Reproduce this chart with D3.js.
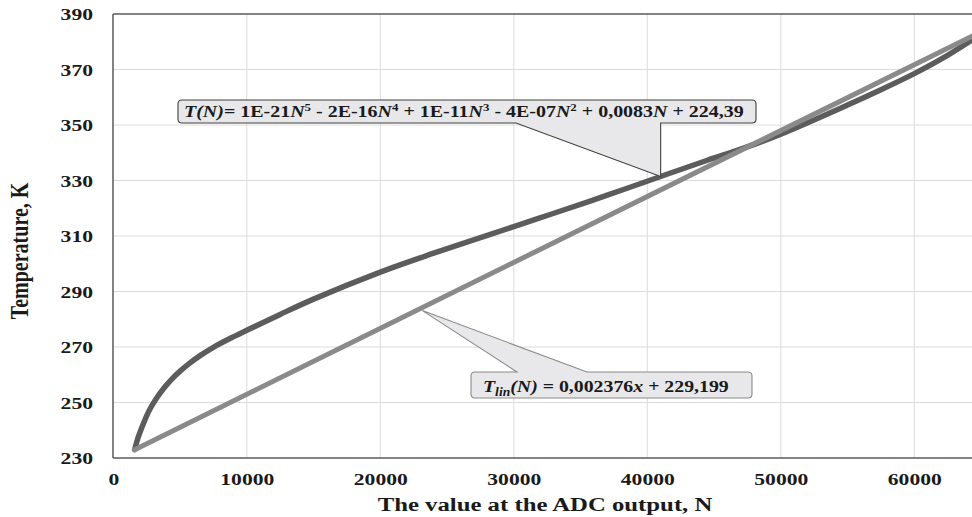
<!DOCTYPE html>
<html>
<head>
<meta charset="utf-8">
<script src="https://cdn.jsdelivr.net/npm/d3@7/dist/d3.min.js"></script>
<style>
  html, body { margin: 0; padding: 0; background: #fff; }
  svg { display: block; }
  text { font-family: "Liberation Serif", "Times New Roman", serif; font-weight: bold; fill: #1a1a1a; }
</style>
</head>
<body>
<svg id="chart" width="972" height="517"></svg>
<script>
// ---- data ----
const xTicks = [0, 10000, 20000, 30000, 40000, 50000, 60000];
const yTicks = [230, 250, 270, 290, 310, 330, 350, 370, 390];

const polyN = [1600, 1800, 2100, 2500, 2800, 3250, 3800, 4400, 5000, 5750, 6500, 7500, 8700, 10000, 12500, 15000, 20000, 24000, 30000, 33000, 37000, 41000, 44500, 47000, 50000, 55000, 57500, 60000, 62000, 64400];
const polyT = [233.0, 236.5, 240.5, 245.2, 248.1, 251.6, 255.2, 258.5, 261.3, 264.3, 266.9, 269.9, 272.95, 276.0, 281.75, 287.25, 297.0, 303.8, 313.4, 318.2, 324.7, 331.45, 337.3, 341.3, 346.7, 357.2, 362.7, 368.5, 373.7, 380.9];

const linN = [1600, 64400];
const linT = [233.0, 382.2];

const xTitle = "The value at the ADC output, N";
const yTitle = "Temperature, K";

// ---- layout ----
const mLeft = 113, mTop = 14, mBottom = 458;
const x = d3.scaleLinear().domain([0, 65000]).range([113.3, 113.3 + 65 * 13.35]);
const y = d3.scaleLinear().domain([230, 390]).range([mBottom, mTop]);
const plotRight = x(65000);
const SX = 1.27; // horizontal stretch of the original figure

const svg = d3.select("#chart");

// gridlines
svg.append("g").selectAll("line").data(yTicks.filter(d => d !== 230 && d !== 390)).join("line")
  .attr("x1", mLeft).attr("x2", plotRight)
  .attr("y1", d => y(d)).attr("y2", d => y(d))
  .attr("stroke", "#dcdcdc").attr("stroke-width", 1);
svg.append("g").selectAll("line").data(xTicks.filter(d => d !== 0)).join("line")
  .attr("x1", d => x(d)).attr("x2", d => x(d))
  .attr("y1", mTop).attr("y2", mBottom)
  .attr("stroke", "#dcdcdc").attr("stroke-width", 1);

// frame lines
const frame = svg.append("g").attr("stroke", "#5a5a5a").attr("stroke-width", 1.5);
frame.append("line").attr("x1", mLeft).attr("x2", plotRight).attr("y1", mTop).attr("y2", mTop);
frame.append("line").attr("x1", mLeft).attr("x2", plotRight).attr("y1", mBottom).attr("y2", mBottom);
frame.append("line").attr("x1", mLeft).attr("x2", mLeft).attr("y1", mTop).attr("y2", mBottom);

// axes (ticks via d3 axes)
const yAxis = svg.append("g").attr("transform", `translate(${mLeft},0)`)
  .call(d3.axisLeft(y).tickValues(yTicks).tickSize(0).tickFormat(d3.format("d")));
yAxis.select(".domain").remove();
yAxis.selectAll("text")
  .attr("x", null).attr("dy", null)
  .attr("dominant-baseline", "central")
  .attr("text-anchor", "end")
  .attr("font-family", "Liberation Serif").attr("font-size", 17).attr("font-weight", "bold")
  .attr("fill", "#1a1a1a")
  .attr("transform", `translate(-20,0) scale(${SX},1)`);

const xAxis = svg.append("g").attr("transform", `translate(0,${mBottom})`)
  .call(d3.axisBottom(x).tickValues(xTicks).tickSize(0).tickFormat(d3.format("d")));
xAxis.select(".domain").remove();
xAxis.selectAll("text")
  .attr("y", null).attr("dy", null)
  .attr("text-anchor", "middle")
  .attr("font-family", "Liberation Serif").attr("font-size", 17).attr("font-weight", "bold")
  .attr("fill", "#1a1a1a")
  .attr("transform", `translate(0,27) scale(${SX},1)`);

// axis titles
svg.append("g").attr("transform", `translate(545,511) scale(${SX},1)`)
  .append("text").attr("text-anchor", "middle").attr("font-size", 19.5).text(xTitle);
svg.append("g").attr("transform", `translate(28,251) scale(${SX},1) rotate(-90)`)
  .append("text").attr("text-anchor", "middle").attr("font-size", 20).text(yTitle);

// curves
const line = d3.line().x(d => x(d[0])).y(d => y(d[1])).curve(d3.curveCatmullRom.alpha(0.5));
svg.append("path").datum(polyN.map((n, i) => [n, polyT[i]]))
  .attr("d", line).attr("fill", "none").attr("stroke", "#5c5c5c")
  .attr("stroke-width", 5.5).attr("stroke-linecap", "round").attr("stroke-linejoin", "round");
svg.append("path").datum(linN.map((n, i) => [n, linT[i]]))
  .attr("d", d3.line().x(d => x(d[0])).y(d => y(d[1]))).attr("fill", "none").attr("stroke", "#8a8a8a")
  .attr("stroke-width", 5).attr("stroke-linecap", "round");

// callouts
function calloutPath(x0, y0, x1, y1, r, side, bx0, bx1, tx, ty) {
  let p = `M${x0 + r},${y0}`;
  if (side === "top") p += `H${bx0}L${tx},${ty}L${bx1},${y0}`;
  p += `H${x1 - r}Q${x1},${y0} ${x1},${y0 + r}V${y1 - r}Q${x1},${y1} ${x1 - r},${y1}`;
  if (side === "bottom") p += `H${bx1}L${tx},${ty}L${bx0},${y1}`;
  p += `H${x0 + r}Q${x0},${y1} ${x0},${y1 - r}V${y0 + r}Q${x0},${y0} ${x0 + r},${y0}Z`;
  return p;
}
function interp(ns, ts, n) {
  for (let i = 0; i < ns.length - 1; i++) {
    if (n >= ns[i] && n <= ns[i + 1]) return ts[i] + (ts[i + 1] - ts[i]) * (n - ns[i]) / (ns[i + 1] - ns[i]);
  }
  return ts[ts.length - 1];
}

// polynomial callout
const t1x = x(41000), t1y = y(interp(polyN, polyT, 41000));
svg.append("path")
  .attr("d", calloutPath(178, 100, 756, 123, 4, "bottom", 516, t1x, t1x, t1y))
  .attr("fill", "#e8e8ea").attr("stroke", "#404040").attr("stroke-width", 1.1);
const c1 = svg.append("g").attr("transform", "translate(184,117)");
const txt1 = c1.append("text").attr("font-size", 17);
const parts1 = [
  ["T(N)", true, 0], ["= 1E-21", false, 0], ["N", true, 0], ["5", false, 1],
  [" - 2E-16", false, -1], ["N", true, 0], ["4", false, 1],
  [" + 1E-11", false, -1], ["N", true, 0], ["3", false, 1],
  [" - 4E-07", false, -1], ["N", true, 0], ["2", false, 1],
  [" + 0,0083", false, -1], ["N", true, 0], [" + 224,39", false, 0]
];
parts1.forEach(([s, it, sup]) => {
  const ts = txt1.append("tspan").text(s).attr("font-style", it ? "italic" : "normal");
  if (sup === 1) ts.attr("dy", -6).attr("font-size", 11);
  if (sup === -1) ts.attr("dy", 6);
});
const w1 = txt1.node().getComputedTextLength();
c1.attr("transform", `translate(184,117) scale(${560 / w1},1)`);

// linear callout
const t2n = 23150;
const t2x = x(t2n), t2y = y(interp(linN, linT, t2n)) + 3;
svg.append("path")
  .attr("d", calloutPath(471, 372, 752, 398, 4, "top", 517, 587, t2x, t2y))
  .attr("fill", "#e8e8ea").attr("stroke", "#8a8a8a").attr("stroke-width", 1.1);
const c2 = svg.append("g").attr("transform", "translate(483,392)");
const txt2 = c2.append("text").attr("font-size", 17.5);
txt2.append("tspan").text("T").attr("font-style", "italic");
txt2.append("tspan").text("lin").attr("font-style", "italic").attr("font-size", 12).attr("dy", 4);
txt2.append("tspan").text("(N)").attr("font-style", "italic").attr("dy", -4);
txt2.append("tspan").text(" = 0,002376");
txt2.append("tspan").text("x").attr("font-style", "italic");
txt2.append("tspan").text(" + 229,199");
const w2 = txt2.node().getComputedTextLength();
c2.attr("transform", `translate(483,392) scale(${246 / w2},1)`);
</script>
</body>
</html>
